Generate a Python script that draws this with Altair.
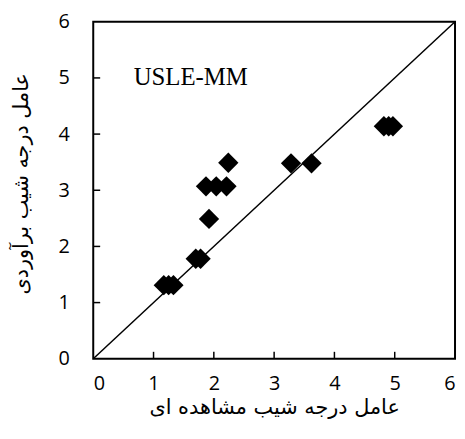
import altair as alt
import pandas as pd

obs = [1.17, 1.25, 1.33, 1.70, 1.78, 1.92, 1.87, 2.04, 2.21, 2.24, 3.28, 3.62, 4.82, 4.90, 4.97]
est = [1.31, 1.31, 1.31, 1.78, 1.78, 2.49, 3.07, 3.07, 3.07, 3.49, 3.48, 3.48, 4.14, 4.14, 4.14]
line_v = [0, 6]
ticks = [1, 2, 3, 4, 5]
axis_vals = [0, 1, 2, 3, 4, 5, 6]
x_title = "عامل درجه شیب مشاهده ای"
y_title = "عامل درجه شیب برآوردی"
label = "USLE-MM"

pts = pd.DataFrame({"x": obs, "y": est})
ln = pd.DataFrame({"x": line_v, "y": line_v})
tk = pd.DataFrame({"t": ticks})
lab = pd.DataFrame({"x": [0.67], "y": [5.02], "t": [label]})

xs = alt.Scale(domain=[0, 6], nice=False)
ys = alt.Scale(domain=[0, 6], nice=False)

xaxis = alt.Axis(values=axis_vals, format="d", grid=False, ticks=False, domain=False,
                 labelFont="Open Sans", labelFontSize=20, labelColor="black",
                 labelPadding=15, title=x_title, titleFont="DejaVu Sans",
                 titleFontSize=21, titleFontWeight="normal", titleColor="black",
                 titleY=49, titleBaseline="middle")
yaxis = alt.Axis(values=axis_vals, format="d", grid=False, ticks=False, domain=False,
                 labelFont="Open Sans", labelFontSize=20, labelColor="black",
                 labelPadding=24, title=y_title, titleFont="DejaVu Sans",
                 titleFontSize=21, titleFontWeight="normal", titleColor="black",
                 titleX=-72, titleY=163, titleBaseline="middle")

line = alt.Chart(ln).mark_line(color="black", strokeWidth=1.5).encode(
    x=alt.X("x:Q", scale=xs, axis=xaxis),
    y=alt.Y("y:Q", scale=ys, axis=yaxis),
)
points = alt.Chart(pts).mark_point(shape="diamond", filled=True, color="black",
                                   size=420, opacity=1).encode(
    x=alt.X("x:Q", scale=xs), y=alt.Y("y:Q", scale=ys))
xt = alt.Chart(tk).mark_rule(color="black", strokeWidth=1.5).encode(
    x=alt.X("t:Q", scale=xs), y=alt.value(340), y2=alt.value(333))
yt = alt.Chart(tk).mark_rule(color="black", strokeWidth=1.5).encode(
    y=alt.Y("t:Q", scale=ys), x=alt.value(0), x2=alt.value(7))
txt = alt.Chart(lab).mark_text(align="left", baseline="middle", font="Liberation Serif",
                               fontSize=25, color="black").encode(
    x=alt.X("x:Q", scale=xs), y=alt.Y("y:Q", scale=ys), text="t:N")

chart = alt.layer(line, xt, yt, points, txt).properties(
    width=365, height=340,
    autosize=alt.AutoSizeParams(type="none"),
    padding={"left": 86, "top": 12, "right": 2, "bottom": 70},
).configure_view(stroke="black", strokeWidth=2)

chart.save("out.html", embed_options={"renderer": "svg", "actions": False})
